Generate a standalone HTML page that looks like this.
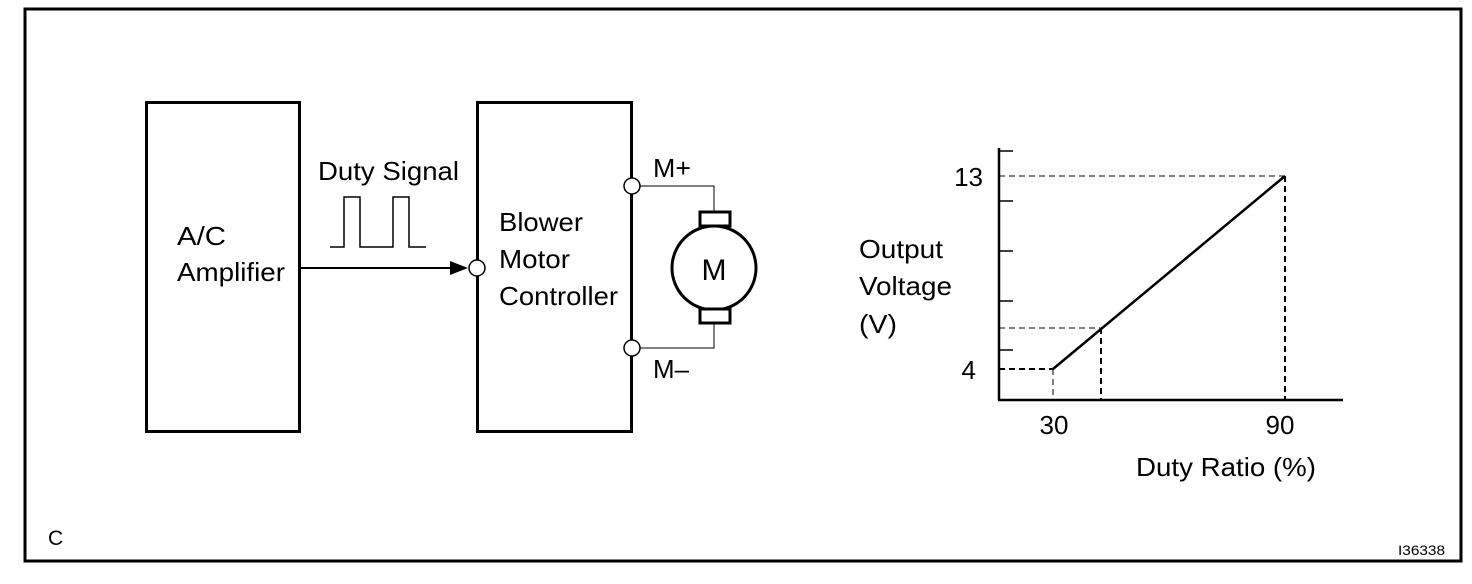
<!DOCTYPE html>
<html><head><meta charset="utf-8"><style>
html,body{margin:0;padding:0;background:#fff;}
svg{display:block;}
text{font-family:"Liberation Sans",sans-serif;fill:#000;}
</style></head><body>
<svg width="1472" height="584" viewBox="0 0 1472 584" xmlns="http://www.w3.org/2000/svg">
<rect x="25" y="9" width="1436" height="552" fill="none" stroke="#000" stroke-width="3"/>
<rect x="146.5" y="102.5" width="153" height="329" fill="none" stroke="#000" stroke-width="3"/>
<rect x="477.5" y="102.5" width="154" height="329" fill="none" stroke="#000" stroke-width="3"/>
<g font-size="26">
<text x="177" y="245" textLength="49" lengthAdjust="spacingAndGlyphs">A/C</text>
<text x="177" y="281" textLength="108" lengthAdjust="spacingAndGlyphs">Amplifier</text>
<text x="318" y="180" textLength="141" lengthAdjust="spacingAndGlyphs">Duty Signal</text>
<text x="499" y="231" textLength="84" lengthAdjust="spacingAndGlyphs">Blower</text>
<text x="499" y="268" textLength="71" lengthAdjust="spacingAndGlyphs">Motor</text>
<text x="499" y="305" textLength="119" lengthAdjust="spacingAndGlyphs">Controller</text>
<text x="653" y="177" textLength="38" lengthAdjust="spacingAndGlyphs">M+</text>
<text x="653" y="378" textLength="36" lengthAdjust="spacingAndGlyphs">M–</text>
<text x="859" y="258" textLength="84" lengthAdjust="spacingAndGlyphs">Output</text>
<text x="859" y="295" textLength="93" lengthAdjust="spacingAndGlyphs">Voltage</text>
<text x="859" y="333" textLength="38" lengthAdjust="spacingAndGlyphs">(V)</text>
<text x="983" y="186" text-anchor="end">13</text>
<text x="976" y="379" text-anchor="end">4</text>
<text x="1054" y="434" text-anchor="middle">30</text>
<text x="1280" y="434" text-anchor="middle">90</text>
<text x="1136" y="476" textLength="180" lengthAdjust="spacingAndGlyphs">Duty Ratio (%)</text>
</g>
<polyline points="330,247 344,247 344,197 360,197 360,247 393,247 393,197 409,197 409,247 426,247" fill="none" stroke="#000" stroke-width="1.5"/>
<line x1="300" y1="268" x2="455" y2="268" stroke="#000" stroke-width="2"/>
<polygon points="450,261 468,268 450,275" fill="#000"/>
<circle cx="477" cy="268" r="8" fill="#fff" stroke="#000" stroke-width="1.5"/>
<polyline points="640,186 714,186 714,212" fill="none" stroke="#000" stroke-width="1"/>
<polyline points="640,348 714,348 714,323" fill="none" stroke="#000" stroke-width="1"/>
<circle cx="632" cy="186" r="8" fill="#fff" stroke="#000" stroke-width="1.5"/>
<circle cx="632" cy="348" r="8" fill="#fff" stroke="#000" stroke-width="1.5"/>
<circle cx="714" cy="268" r="42" fill="#fff" stroke="#000" stroke-width="3"/>
<rect x="700" y="212" width="30" height="14" fill="#fff" stroke="#000" stroke-width="3"/>
<rect x="700" y="309" width="30" height="14" fill="#fff" stroke="#000" stroke-width="3"/>
<text x="714" y="280" font-size="30" text-anchor="middle">M</text>
<line x1="999" y1="148" x2="999" y2="400" stroke="#000" stroke-width="2.5"/>
<line x1="998" y1="400" x2="1343" y2="400" stroke="#000" stroke-width="2.5"/>
<g stroke="#000" stroke-width="1.5">
<line x1="999" y1="151" x2="1013" y2="151"/>
<line x1="999" y1="201" x2="1013" y2="201"/>
<line x1="999" y1="251" x2="1013" y2="251"/>
<line x1="999" y1="301" x2="1013" y2="301"/>
<line x1="999" y1="350" x2="1013" y2="350"/>
</g>
<g stroke="#000" stroke-width="1" stroke-dasharray="6,4" fill="none">
<line x1="999" y1="176" x2="1285" y2="176"/>
<line x1="1285" y1="176" x2="1285" y2="400" stroke-width="2"/>
<line x1="999" y1="328" x2="1101" y2="328"/>
<line x1="1101" y1="328" x2="1101" y2="400" stroke-width="2"/>
<line x1="999" y1="369" x2="1053" y2="369" stroke-width="2"/>
<line x1="1053" y1="369" x2="1053" y2="400"/>
</g>
<line x1="1053" y1="369" x2="1285" y2="176" stroke="#000" stroke-width="2.5"/>
<text x="48" y="545" font-size="21">C</text>
<text x="1398" y="555" font-size="14" textLength="47" lengthAdjust="spacingAndGlyphs">I36338</text>
</svg>
</body></html>
